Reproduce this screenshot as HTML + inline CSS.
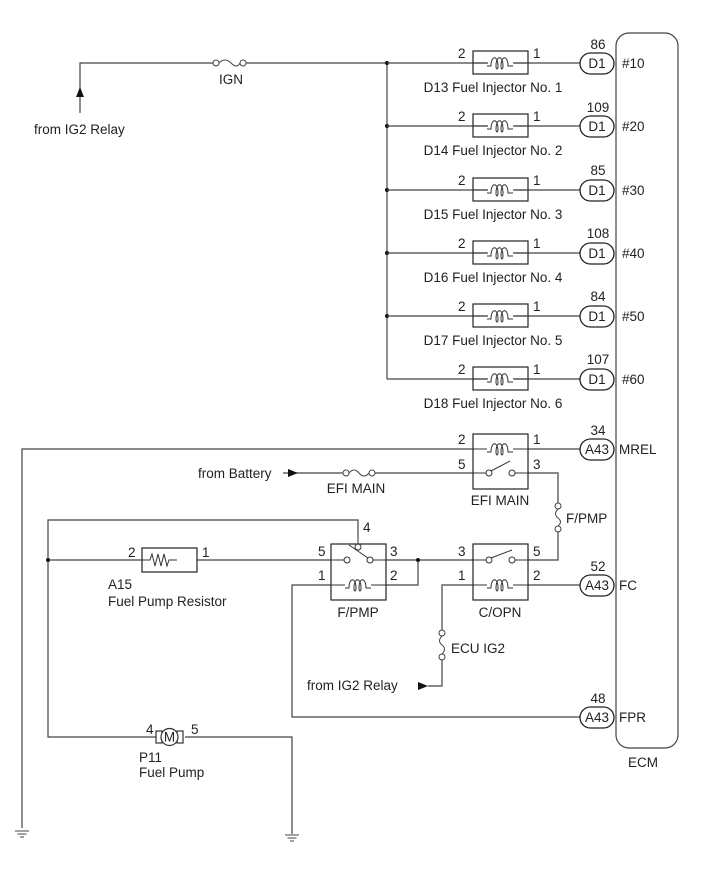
<!DOCTYPE html>
<html><head><meta charset="utf-8"><style>
html,body{margin:0;padding:0;background:#fff}
svg{display:block}
text{font-family:"Liberation Sans",sans-serif;font-size:13.5px;fill:#222}
</style></head><body>
<svg width="713" height="882" viewBox="0 0 713 882" xmlns="http://www.w3.org/2000/svg">
<defs>
<g id="coil"><path d="M-13,0 h4 c0,-11 7,-11 7,0 c0,4 -2,4 -2,0 M-4,0 c0,-11 7,-11 7,0 c0,4 -2,4 -2,0 M1,0 c0,-11 7,-11 7,0 h5" fill="none" stroke="#333" stroke-width="1"/></g>
<g id="gnd"><line x1="-7" y1="0" x2="7" y2="0" stroke="#444"/><line x1="-4.5" y1="3" x2="4.5" y2="3" stroke="#444"/><line x1="-2" y1="6" x2="2" y2="6" stroke="#444"/></g>
</defs>
<g stroke="#444" stroke-width="1.2" fill="none">
<rect x="616" y="33" width="62" height="715" rx="13"/>
<polyline points="80,113 80,63 213,63"/>
<line x1="246" y1="63" x2="387" y2="63"/>
<line x1="387" y1="63" x2="387" y2="379"/>
<polyline points="22,828 22,449 473,449"/>
<line x1="528" y1="449" x2="580" y2="449"/>
<line x1="283" y1="473" x2="343" y2="473"/>
<line x1="375" y1="473" x2="473" y2="473"/>
<polyline points="528,473 558,473 558,503"/>
<polyline points="558,532 558,560 528,560"/>
<polyline points="358,537 358,520 48,520 48,737 160,737"/>
<polyline points="185,737 292,737 292,834"/>
<line x1="48" y1="560" x2="142" y2="560"/>
<line x1="197" y1="560" x2="331" y2="560"/>
<line x1="386" y1="560" x2="473" y2="560"/>
<polyline points="386,585 418,585 418,560"/>
<polyline points="331,585 292,585 292,717 580,717"/>
<polyline points="473,585 442,585 442,630"/>
<polyline points="442,660 442,686 428,686"/>
<line x1="528" y1="585" x2="580" y2="585"/>
<rect x="473" y="434" width="55" height="55" stroke="#222"/>
<rect x="473" y="544" width="55" height="56" stroke="#222"/>
<rect x="331" y="544" width="55" height="56" stroke="#222"/>
<rect x="142" y="548" width="55" height="24" stroke="#222"/>
</g>
<polygon points="80,87 76,97 84,97" fill="#111"/>
<polygon points="298,473 288,469 288,477" fill="#111"/>
<polygon points="428,686 418,682 418,690" fill="#111"/>
<g fill="#111"><circle cx="387" cy="63" r="2"/><circle cx="387" cy="126" r="2"/><circle cx="387" cy="190" r="2"/><circle cx="387" cy="253" r="2"/><circle cx="387" cy="316" r="2"/><circle cx="48" cy="560" r="2"/><circle cx="418" cy="560" r="2"/></g>
<g fill="#fff" stroke="#444" stroke-width="1">
<circle cx="216" cy="63" r="3"/><circle cx="243" cy="63" r="3"/>
<circle cx="346" cy="473" r="3"/><circle cx="372" cy="473" r="3"/>
<circle cx="558" cy="506" r="3"/><circle cx="558" cy="529" r="3"/>
<circle cx="442" cy="633" r="3"/><circle cx="442" cy="657" r="3"/>
</g>
<g fill="none" stroke="#444" stroke-width="1">
<path d="M219,63 q6,-6 12,0 t9,0"/>
<path d="M349,473 q5,-6 10,0 t10,0"/>
<path d="M558,509 q-5,5 0,9 t0,8"/>
<path d="M442,636 q-5,5 0,9 t0,9"/>
</g>
<g stroke="#444" stroke-width="1.2" fill="none">
<line x1="387" y1="63" x2="580" y2="63"/><rect x="473" y="51" width="55" height="23" stroke="#222"/>
<line x1="387" y1="126" x2="580" y2="126"/><rect x="473" y="114" width="55" height="23" stroke="#222"/>
<line x1="387" y1="190" x2="580" y2="190"/><rect x="473" y="178" width="55" height="23" stroke="#222"/>
<line x1="387" y1="253" x2="580" y2="253"/><rect x="473" y="241" width="55" height="23" stroke="#222"/>
<line x1="387" y1="316" x2="580" y2="316"/><rect x="473" y="304" width="55" height="23" stroke="#222"/>
<line x1="387" y1="379" x2="580" y2="379"/><rect x="473" y="367" width="55" height="23" stroke="#222"/>
</g>
<g fill="#fff" stroke="none">
<rect x="488" y="55" width="26" height="12"/><rect x="488" y="118" width="26" height="12"/><rect x="488" y="182" width="26" height="12"/><rect x="488" y="245" width="26" height="12"/><rect x="488" y="308" width="26" height="12"/><rect x="488" y="371" width="26" height="12"/>
</g>
<use href="#coil" x="500" y="66"/><use href="#coil" x="500" y="129"/><use href="#coil" x="500" y="193"/><use href="#coil" x="500" y="256"/><use href="#coil" x="500" y="319"/><use href="#coil" x="500" y="382"/>
<g stroke="#444" stroke-width="1.2">
<line x1="473" y1="63" x2="487" y2="63"/><line x1="513" y1="63" x2="528" y2="63"/>
<line x1="473" y1="126" x2="487" y2="126"/><line x1="513" y1="126" x2="528" y2="126"/>
<line x1="473" y1="190" x2="487" y2="190"/><line x1="513" y1="190" x2="528" y2="190"/>
<line x1="473" y1="253" x2="487" y2="253"/><line x1="513" y1="253" x2="528" y2="253"/>
<line x1="473" y1="316" x2="487" y2="316"/><line x1="513" y1="316" x2="528" y2="316"/>
<line x1="473" y1="379" x2="487" y2="379"/><line x1="513" y1="379" x2="528" y2="379"/>
</g>
<g stroke="#333" stroke-width="1" fill="none">
<line x1="473" y1="449" x2="487" y2="449"/><line x1="513" y1="449" x2="528" y2="449"/>
<line x1="473" y1="473" x2="486" y2="473"/><line x1="515" y1="473" x2="528" y2="473"/>
<circle cx="489" cy="473" r="3"/><circle cx="512" cy="473" r="3"/><line x1="491" y1="471" x2="510" y2="461"/>
<line x1="473" y1="560" x2="486" y2="560"/><line x1="515" y1="560" x2="528" y2="560"/>
<circle cx="489" cy="560" r="3"/><circle cx="512" cy="560" r="3"/><line x1="491" y1="558" x2="512" y2="550"/>
<line x1="473" y1="585" x2="487" y2="585"/><line x1="513" y1="585" x2="528" y2="585"/>
<line x1="331" y1="560" x2="344" y2="560"/><line x1="373" y1="560" x2="386" y2="560"/>
<circle cx="347" cy="560" r="3"/><circle cx="370" cy="560" r="3"/><circle cx="358" cy="547" r="3"/>
<line x1="358" y1="537" x2="358" y2="544"/><line x1="349" y1="545" x2="368" y2="558"/>
<line x1="331" y1="585" x2="345" y2="585"/><line x1="371" y1="585" x2="386" y2="585"/>
<path d="M142,560 h8 l2,-6 l3,12 l3,-12 l3,12 l3,-12 l3,12 l2,-6 h8"/>
</g>
<use href="#coil" x="500" y="452"/><use href="#coil" x="500" y="588"/><use href="#coil" x="358" y="588"/>
<g stroke="#333" stroke-width="1.2" fill="#fff">
<rect x="156" y="731" width="6" height="12"/><rect x="177" y="731" width="6" height="12"/>
<circle cx="169.5" cy="737" r="8.5"/>
</g>
<text x="169.5" y="741.5" text-anchor="middle" font-size="11">M</text>
<use href="#gnd" x="22" y="831"/><use href="#gnd" x="292" y="835"/>
<g stroke="#222" stroke-width="1.3" fill="#fff">
<rect x="580" y="53" width="34" height="21" rx="10.5"/>
<rect x="580" y="116" width="34" height="21" rx="10.5"/>
<rect x="580" y="180" width="34" height="21" rx="10.5"/>
<rect x="580" y="243" width="34" height="21" rx="10.5"/>
<rect x="580" y="306" width="34" height="21" rx="10.5"/>
<rect x="580" y="369" width="34" height="21" rx="10.5"/>
<rect x="580" y="439" width="34" height="21" rx="10.5"/>
<rect x="580" y="575" width="34" height="21" rx="10.5"/>
<rect x="580" y="707" width="34" height="21" rx="10.5"/>
</g>
<g text-anchor="middle">
<text x="597" y="68">D1</text><text x="597" y="131">D1</text><text x="597" y="195">D1</text><text x="597" y="258">D1</text><text x="597" y="321">D1</text><text x="597" y="384">D1</text>
<text x="597" y="454">A43</text><text x="597" y="590">A43</text><text x="597" y="722">A43</text>
<text x="598" y="49">86</text><text x="598" y="112">109</text><text x="598" y="175">85</text><text x="598" y="238">108</text><text x="598" y="301">84</text><text x="598" y="364">107</text>
<text x="598" y="435">34</text><text x="598" y="571">52</text><text x="598" y="703">48</text>
<text x="231" y="84">IGN</text>
<text x="493" y="92">D13 Fuel Injector No. 1</text>
<text x="493" y="155">D14 Fuel Injector No. 2</text>
<text x="493" y="219">D15 Fuel Injector No. 3</text>
<text x="493" y="282">D16 Fuel Injector No. 4</text>
<text x="493" y="345">D17 Fuel Injector No. 5</text>
<text x="493" y="408">D18 Fuel Injector No. 6</text>
<text x="500" y="505">EFI MAIN</text>
<text x="356" y="493">EFI MAIN</text>
<text x="358" y="617">F/PMP</text>
<text x="500" y="617">C/OPN</text>
<text x="643" y="767">ECM</text>
</g>
<g>
<text x="622" y="68">#10</text><text x="622" y="131">#20</text><text x="622" y="195">#30</text><text x="622" y="258">#40</text><text x="622" y="321">#50</text><text x="622" y="384">#60</text>
<text x="619" y="454">MREL</text><text x="619" y="590">FC</text><text x="619" y="722">FPR</text>
<text x="34" y="134">from IG2 Relay</text>
<text x="198" y="478">from Battery</text>
<text x="307" y="690">from IG2 Relay</text>
<text x="566" y="523">F/PMP</text>
<text x="451" y="653">ECU IG2</text>
<text x="108" y="589">A15</text>
<text x="108" y="606">Fuel Pump Resistor</text>
<text x="139" y="762">P11</text>
<text x="139" y="777">Fuel Pump</text>
<text x="458" y="58">2</text><text x="533" y="58">1</text>
<text x="458" y="121">2</text><text x="533" y="121">1</text>
<text x="458" y="185">2</text><text x="533" y="185">1</text>
<text x="458" y="248">2</text><text x="533" y="248">1</text>
<text x="458" y="311">2</text><text x="533" y="311">1</text>
<text x="458" y="374">2</text><text x="533" y="374">1</text>
<text x="458" y="444">2</text><text x="533" y="444">1</text>
<text x="458" y="469">5</text><text x="533" y="469">3</text>
<text x="458" y="556">3</text><text x="533" y="556">5</text>
<text x="458" y="580">1</text><text x="533" y="580">2</text>
<text x="318" y="556">5</text><text x="390" y="556">3</text>
<text x="318" y="580">1</text><text x="390" y="580">2</text>
<text x="363" y="532">4</text>
<text x="128" y="557">2</text><text x="202" y="557">1</text>
<text x="146" y="734">4</text><text x="191" y="734">5</text>
</g>
</svg>
</body></html>
